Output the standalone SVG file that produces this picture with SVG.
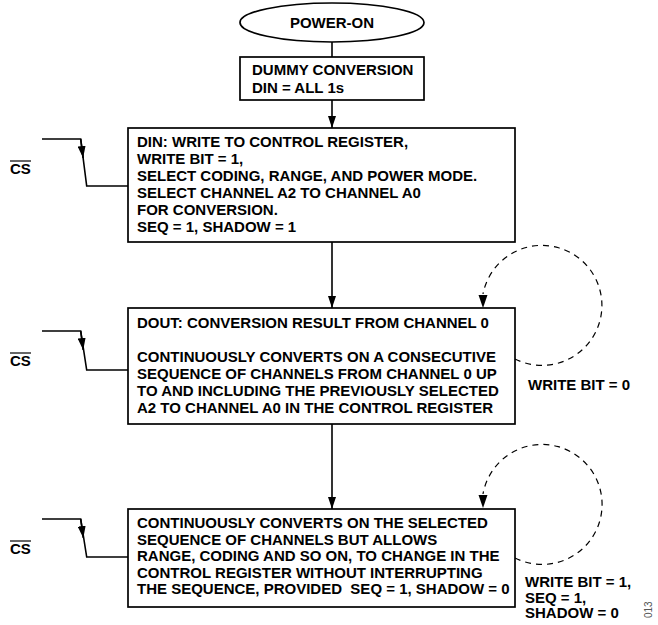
<svg xmlns="http://www.w3.org/2000/svg" width="658" height="625" viewBox="0 0 658 625">
<defs>
<style>
.t{font-family:"Liberation Sans",Arial,sans-serif;font-weight:bold;font-size:15px;fill:#000}
.b{fill:#fff;stroke:#000;stroke-width:1.7}
.c{fill:none;stroke:#000;stroke-width:1.6}
.d{fill:none;stroke:#000;stroke-width:1.2;stroke-dasharray:6 5}
.fig{font-family:"Liberation Sans",Arial,sans-serif;font-size:10px;fill:#555}
</style>
<marker id="arr" viewBox="0 0 12 8" refX="12" refY="4" markerWidth="12" markerHeight="8" markerUnits="userSpaceOnUse" orient="auto">
<path d="M0,0 L12,4 L0,8 z" fill="#000"/>
</marker>
</defs>
<rect width="658" height="625" fill="#fff"/>

<g id="connectors">
<line class="c" x1="332" y1="42" x2="332" y2="57"/>
<line class="c" x1="332" y1="100" x2="332" y2="128" marker-end="url(#arr)"/>
<line class="c" x1="332" y1="242" x2="332" y2="308" marker-end="url(#arr)"/>
<line class="c" x1="332" y1="424" x2="332" y2="509" marker-end="url(#arr)"/>
<!-- CS signals -->
<polyline class="c" points="42,139 80.7,139 86.7,186 128,186"/>
<line class="c" x1="80.7" y1="139" x2="83.1" y2="158" marker-end="url(#arr)"/>
<polyline class="c" points="42,331 80.7,331 86.7,370 128,370"/>
<line class="c" x1="80.7" y1="331" x2="83.2" y2="350" marker-end="url(#arr)"/>
<polyline class="c" points="42,519 80.7,519 86.7,557 128,557"/>
<line class="c" x1="80.7" y1="519" x2="83.3" y2="538" marker-end="url(#arr)"/>
<!-- dashed loops -->
<path class="d" d="M515,359 A60,60 0 1 0 483,294"/>
<polygon points="483,308 478.5,295 487.5,295" fill="#000"/>
<path class="d" d="M515,558 A60,60 0 1 0 483,494"/>
<polygon points="483,508 478.5,495 487.5,495" fill="#000"/>
</g>

<g id="power-on">
<ellipse class="b" cx="332" cy="22.5" rx="92" ry="19.5"/>
<text class="t" x="332" y="28" text-anchor="middle">POWER-ON</text>
</g>

<g id="dummy">
<rect class="b" x="240" y="57" width="184" height="43"/>
<text class="t" x="252" y="75">DUMMY CONVERSION</text>
<text class="t" x="252" y="92.5">DIN = ALL 1s</text>
</g>

<g id="box1">
<rect class="b" x="128" y="128" width="387" height="114"/>
<text class="t" x="137" y="147">DIN: WRITE TO CONTROL REGISTER,</text>
<text class="t" x="137" y="164">WRITE BIT = 1,</text>
<text class="t" x="137" y="181">SELECT CODING, RANGE, AND POWER MODE.</text>
<text class="t" x="137" y="198">SELECT CHANNEL A2 TO CHANNEL A0</text>
<text class="t" x="137" y="215">FOR CONVERSION.</text>
<text class="t" x="137" y="232">SEQ = 1, SHADOW = 1</text>
</g>

<g id="box2">
<rect class="b" x="128" y="308" width="387" height="116"/>
<text class="t" x="137" y="328">DOUT: CONVERSION RESULT FROM CHANNEL 0</text>
<text class="t" x="137" y="362">CONTINUOUSLY CONVERTS ON A CONSECUTIVE</text>
<text class="t" x="137" y="379">SEQUENCE OF CHANNELS FROM CHANNEL 0 UP</text>
<text class="t" x="137" y="396">TO AND INCLUDING THE PREVIOUSLY SELECTED</text>
<text class="t" x="137" y="413">A2 TO CHANNEL A0 IN THE CONTROL REGISTER</text>
</g>

<g id="box3">
<rect class="b" x="128" y="509" width="387" height="98"/>
<text class="t" x="137" y="528">CONTINUOUSLY CONVERTS ON THE SELECTED</text>
<text class="t" x="137" y="544.5">SEQUENCE OF CHANNELS BUT ALLOWS</text>
<text class="t" x="137" y="561">RANGE, CODING AND SO ON, TO CHANGE IN THE</text>
<text class="t" x="137" y="577.5">CONTROL REGISTER WITHOUT INTERRUPTING</text>
<text class="t" x="137" y="594" xml:space="preserve">THE SEQUENCE, PROVIDED  SEQ = 1, SHADOW = 0</text>
</g>

<g id="cs-labels">
<text class="t" x="10" y="174">CS</text>
<line x1="10" y1="161" x2="31" y2="161" stroke="#000" stroke-width="1.2"/>
<text class="t" x="10" y="366">CS</text>
<line x1="10" y1="353" x2="31" y2="353" stroke="#000" stroke-width="1.2"/>
<text class="t" x="10" y="554">CS</text>
<line x1="10" y1="541" x2="31" y2="541" stroke="#000" stroke-width="1.2"/>
</g>

<g id="loop-labels">
<text class="t" x="528" y="390">WRITE BIT = 0</text>
<text class="t" x="525" y="587">WRITE BIT = 1,</text>
<text class="t" x="525" y="602.5">SEQ = 1,</text>
<text class="t" x="525" y="618">SHADOW = 0</text>
</g>

<text class="fig" transform="translate(652,618) rotate(-90)">013</text>
</svg>
